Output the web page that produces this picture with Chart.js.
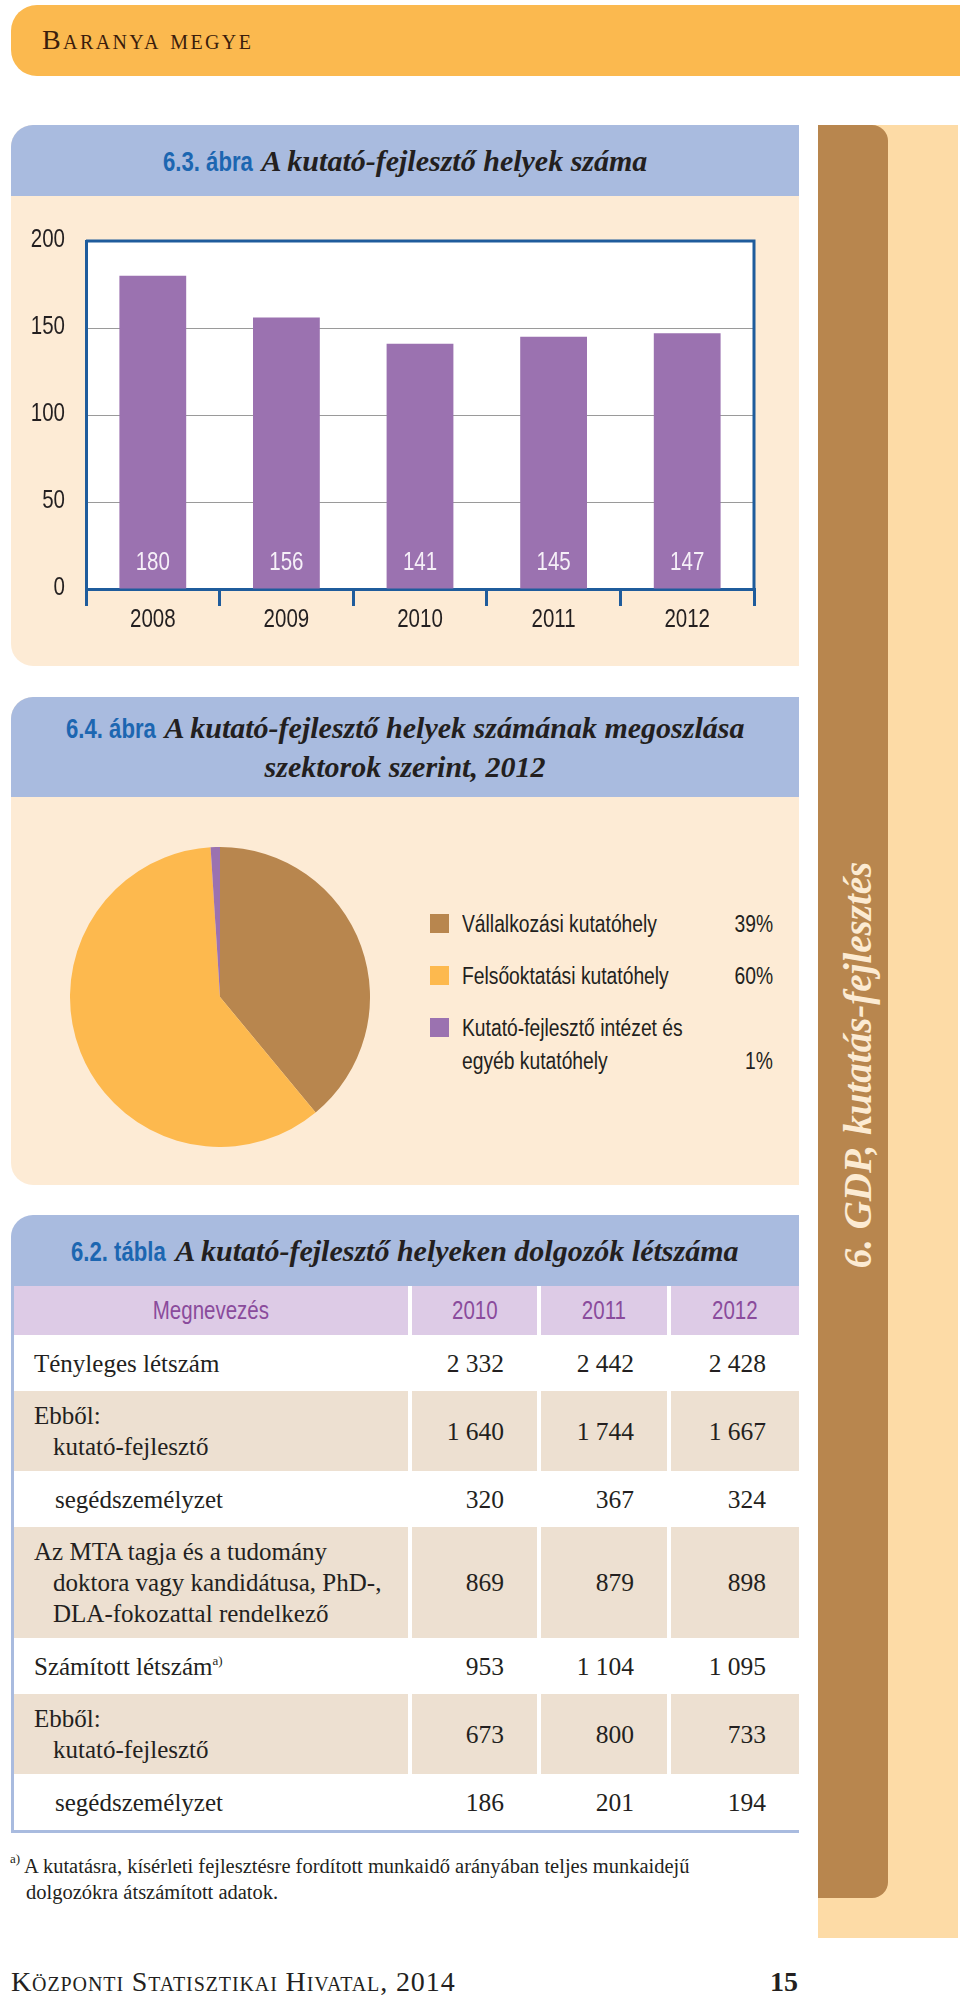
<!DOCTYPE html>
<html>
<head>
<meta charset="utf-8">
<script src="https://cdn.jsdelivr.net/npm/chart.js@4.4.0/dist/chart.umd.min.js"></script>
<style>
body { margin: 0; background: #fff; }
#page { position: relative; width: 960px; height: 1998px; overflow: hidden; font-family: 'Liberation Serif', 'DejaVu Serif', serif; color: #231f20; }
.nar, .narR, .narC { font-family: 'Liberation Sans', Arial, sans-serif; }
#banner { position: absolute; left: 11px; top: 5px; width: 949px; height: 71px; background: #fbb94f; border-radius: 26px 0 0 26px; }
#banner span { position: absolute; left: 31px; top: 18px; font-size: 28px; line-height: 34px; font-variant: small-caps; letter-spacing: 2.4px; color: #3b1d0c; }
.panel { position: absolute; left: 11px; width: 788px; background: #fdebd5; border-radius: 22px 0 0 22px; overflow: hidden; }
.phead { background: #a9bbdf; display: flex; align-items: center; justify-content: center; text-align: center; }
.phead .no { color: #1c66b1; font-weight: bold; font-size: 27px; }
.phead .tt { font-style: italic; font-weight: bold; font-size: 30px; margin-left: 9px; }
#sideLight { position: absolute; left: 818px; top: 125px; width: 140px; height: 1813px; background: #fddba6; }
#sideDark { position: absolute; left: 818px; top: 125px; width: 70px; height: 1773px; background: #b8864e; border-radius: 0 16px 16px 0; }
#sideText { position: absolute; left: 608px; top: 1045px; width: 500px; height: 40px; line-height: 40px; text-align: center; transform: rotate(-90deg); color: #fcebd3; font-style: italic; font-weight: bold; font-size: 39px; white-space: nowrap; }
#legend { position: absolute; left: 430px; top: 908px; width: 343px; font-size: 23.5px; line-height: 33px; }
.lrow { display: flex; align-items: flex-end; margin-bottom: 19px; }
.lsq { width: 19px; height: 19px; flex: none; align-self: flex-start; margin-top: 6px; }
.ltxt { flex: 1; margin-left: 13px; white-space: pre-line; }
.lpct { flex: none; text-align: right; }
#tbl { position: absolute; left: 11px; top: 1286px; width: 785px; border-left: 3px solid #a9bbdf; border-bottom: 3px solid #a9bbdf; background: #fff; }
.trow { display: grid; grid-template-columns: 394px 125px 126px 128px; column-gap: 4px; }
.trow > div { display: flex; align-items: center; font-size: 25px; line-height: 31px; }
.thead > div { height: 49px; justify-content: center; background: #ddcbe6; color: #8a4b9c; font-size: 25px; }
.tbody > div { min-height: 56px; padding: 9px 0; box-sizing: border-box; }
.tbody.shade > div { background: #ede0d1; }
.tbody > .val { justify-content: flex-end; padding-right: 33px; font-size: 25.5px; }
.tbody > .lab { padding-left: 39px; text-indent: -19px; display: block; align-self: stretch; }
.tbody > .lab.sub { padding-left: 41px; text-indent: 0; }
sup { font-size: 13px; line-height: 0; vertical-align: 10px; }
#note { position: absolute; left: 10px; top: 1853px; width: 760px; font-size: 20.5px; line-height: 26px; padding-left: 16px; text-indent: -16px; }
#foot { position: absolute; left: 11px; top: 1964px; font-size: 28px; line-height: 36px; font-variant: small-caps; letter-spacing: 0.9px; }
#pageno { position: absolute; left: 740px; width: 58px; top: 1964px; text-align: right; font-size: 28px; line-height: 36px; font-weight: bold; }
</style>
</head>
<body>
<div id="page">
  <div id="banner"><span>Baranya megye</span></div>

  <div id="sideLight"></div>
  <div id="sideDark"></div>
  <div id="sideText">6. GDP, kutatás-fejlesztés</div>

  <div class="panel" style="top:125px;height:541px;">
    <div class="phead" style="height:71px;"><span><span class="no nar">6.3. ábra</span><span class="tt">A kutató-fejlesztő helyek száma</span></span></div>
  </div>
  <div style="position:absolute;left:11px;top:196px;width:788px;height:470px;">
    <canvas id="barChart" width="788" height="470"></canvas>
  </div>

  <div class="panel" style="top:697px;height:488px;">
    <div class="phead" style="height:100px;line-height:34px;padding-top:6px;box-sizing:border-box;"><span><span class="no nar">6.4. ábra</span><span class="tt">A kutató-fejlesztő helyek számának megoszlása<br>szektorok szerint, 2012</span></span></div>
  </div>
  <div style="position:absolute;left:70px;top:847px;width:300px;height:300px;">
    <canvas id="pieChart" width="300" height="300"></canvas>
  </div>
  <div id="legend"></div>

  <div class="panel" style="top:1215px;height:71px;border-radius:22px 0 0 0;">
    <div class="phead" style="height:71px;"><span><span class="no nar">6.2. tábla</span><span class="tt">A kutató-fejlesztő helyeken dolgozók létszáma</span></span></div>
  </div>
  <div id="tbl"></div>

  <div id="note"><sup>a)</sup> A kutatásra, kísérleti fejlesztésre fordított munkaidő arányában teljes munkaidejű dolgozókra átszámított adatok.</div>
  <div id="foot">Központi Statisztikai Hivatal, 2014</div>
  <div id="pageno">15</div>
</div>

<script>
// 6.3. ábra - kutató-fejlesztő helyek száma
const years = ['2008', '2009', '2010', '2011', '2012'];
const helyek = [180, 156, 141, 145, 147];
const yMin = 0, yMax = 200, yStep = 50;

// 6.4. ábra - megoszlás szektorok szerint, 2012 (%)
const sectors = ['Vállalkozási kutatóhely', 'Felsőoktatási kutatóhely', 'Kutató-fejlesztő intézet és\negyéb kutatóhely'];
const shares = [39, 60, 1];
const sectorColors = ['#b8864e', '#fdb94e', '#9b72b0'];

// 6.2. tábla
const tableYears = ['2010', '2011', '2012'];
const tenyleges = [2332, 2442, 2428];
const tenyKutato = [1640, 1744, 1667];
const tenySeged = [320, 367, 324];
const mtaTag = [869, 879, 898];
const szamitott = [953, 1104, 1095];
const szamKutato = [673, 800, 733];
const szamSeged = [186, 201, 194];

const NARROW = 0.82;   // Arial squeezed to look like a condensed face
const sansFont = "'Liberation Sans', Arial, sans-serif";
const axisBlue = '#1f5c9c';
const textColor = '#231f20';

function drawNarrow(ctx, txt, x, y, align) {
    ctx.save();
    ctx.translate(x, y);
    ctx.scale(NARROW, 1);
    ctx.textAlign = align;
    ctx.textBaseline = 'middle';
    ctx.fillText(txt, 0, 0);
    ctx.restore();
}

// white plot background, top/right frame, labels, values inside bars
const plotFrame = {
    id: 'plotFrame',
    beforeDraw(chart) {
        const a = chart.chartArea, ctx = chart.ctx;
        ctx.save();
        ctx.fillStyle = '#fff';
        ctx.fillRect(a.left, a.top, a.right - a.left, a.bottom - a.top);
        ctx.restore();
    },
    afterDraw(chart) {
        const a = chart.chartArea, ctx = chart.ctx;
        const xS = chart.scales.x, yS = chart.scales.y;
        ctx.save();
        ctx.strokeStyle = axisBlue;
        ctx.lineWidth = 3;
        ctx.beginPath();
        ctx.moveTo(a.left, a.top);
        ctx.lineTo(a.right, a.top);
        ctx.lineTo(a.right, a.bottom);
        ctx.stroke();

        ctx.font = '25px ' + sansFont;
        ctx.fillStyle = textColor;
        yS.ticks.forEach(t => drawNarrow(ctx, String(t.value), a.left - 21, yS.getPixelForValue(t.value) - 1, 'right'));
        xS.ticks.forEach((t, i) => drawNarrow(ctx, xS.getLabelForValue(t.value), xS.getPixelForTick(i), a.bottom + 31, 'center'));

        const base = yS.getPixelForValue(0);
        ctx.fillStyle = '#f6f0f8';
        chart.getDatasetMeta(0).data.forEach((bar, i) => {
            drawNarrow(ctx, String(chart.data.datasets[0].data[i]), bar.x, base - 26, 'center');
        });
        ctx.restore();
    }
};

new Chart(document.getElementById('barChart'), {
    type: 'bar',
    data: {
        labels: years,
        datasets: [{
            data: helyek,
            backgroundColor: '#9b72b0',
            barPercentage: 0.5,
            categoryPercentage: 1
        }]
    },
    options: {
        responsive: false,
        animation: false,
        devicePixelRatio: 1,
        layout: { padding: { top: 45, right: 45, left: 0, bottom: 0 } },
        plugins: { legend: { display: false }, tooltip: { enabled: false } },
        scales: {
            x: {
                grid: { offset: true, drawOnChartArea: false, color: axisBlue, lineWidth: 3, tickLength: 17 },
                border: { color: axisBlue, width: 3 },
                ticks: { display: false },
                afterFit(axis) { axis.height = 77; }
            },
            y: {
                min: yMin,
                max: yMax,
                ticks: { stepSize: yStep, display: false },
                grid: {
                    drawTicks: false,
                    lineWidth: 1,
                    color: c => (c.tick.value > yMin && c.tick.value < yMax) ? '#9a9a9a' : 'rgba(0,0,0,0)'
                },
                border: { color: axisBlue, width: 3 },
                afterFit(axis) { axis.width = 75; }
            }
        }
    },
    plugins: [plotFrame]
});

new Chart(document.getElementById('pieChart'), {
    type: 'pie',
    data: {
        labels: sectors,
        datasets: [{ data: shares, backgroundColor: sectorColors, borderWidth: 0 }]
    },
    options: {
        responsive: false,
        animation: false,
        devicePixelRatio: 1,
        plugins: { legend: { display: false }, tooltip: { enabled: false } }
    }
});

// legend for the pie
const legend = document.getElementById('legend');
sectors.forEach((s, i) => {
    const row = document.createElement('div');
    row.className = 'lrow';
    row.innerHTML = `<div class="lsq" style="background:${sectorColors[i]}"></div>` +
        `<div class="ltxt"><span class="nar">${s}</span></div><div class="lpct"><span class="narR">${shares[i]}%</span></div>`;
    legend.appendChild(row);
});

// table
function fmt(n) { return String(n).replace(/\B(?=(\d{3})+(?!\d))/g, ' '); }

const tableRows = [
    { label: 'Tényleges létszám', values: tenyleges },
    { label: 'Ebből:<br>kutató-fejlesztő', values: tenyKutato, shade: true },
    { label: 'segédszemélyzet', values: tenySeged, sub: true },
    { label: 'Az MTA tagja és a tudomány<br>doktora vagy kandidátusa, PhD-,<br>DLA-fokozattal rendelkező', values: mtaTag, shade: true },
    { label: 'Számított létszám<sup>a)</sup>', values: szamitott },
    { label: 'Ebből:<br>kutató-fejlesztő', values: szamKutato, shade: true },
    { label: 'segédszemélyzet', values: szamSeged, sub: true }
];

const tbl = document.getElementById('tbl');
let html = '<div class="trow thead"><div><span class="narC">Megnevezés</span></div>' +
    tableYears.map(y => `<div><span class="narC">${y}</span></div>`).join('') + '</div>';
tableRows.forEach(r => {
    html += `<div class="trow tbody${r.shade ? ' shade' : ''}">` +
        `<div class="lab${r.sub ? ' sub' : ''}"><div style="display:flex;flex-direction:column;justify-content:center;height:100%;"><div>${r.label}</div></div></div>` +
        r.values.map(v => `<div class="val">${fmt(v)}</div>`).join('') + '</div>';
});
tbl.innerHTML = html;

// squeeze the sans texts horizontally, keeping the layout width in step
function squeeze(sel, origin, side) {
    document.querySelectorAll(sel).forEach(el => {
        el.style.display = 'inline-block';
        const w = el.getBoundingClientRect().width;
        el.style.transform = 'scaleX(' + NARROW + ')';
        el.style.transformOrigin = origin;
        if (side) el.style[side] = (-(1 - NARROW) * w) + 'px';
    });
}
squeeze('.nar', '0 50%', 'marginRight');
squeeze('.narR', '100% 50%', 'marginLeft');
squeeze('.narC', '50% 50%', null);
</script>
</body>
</html>
